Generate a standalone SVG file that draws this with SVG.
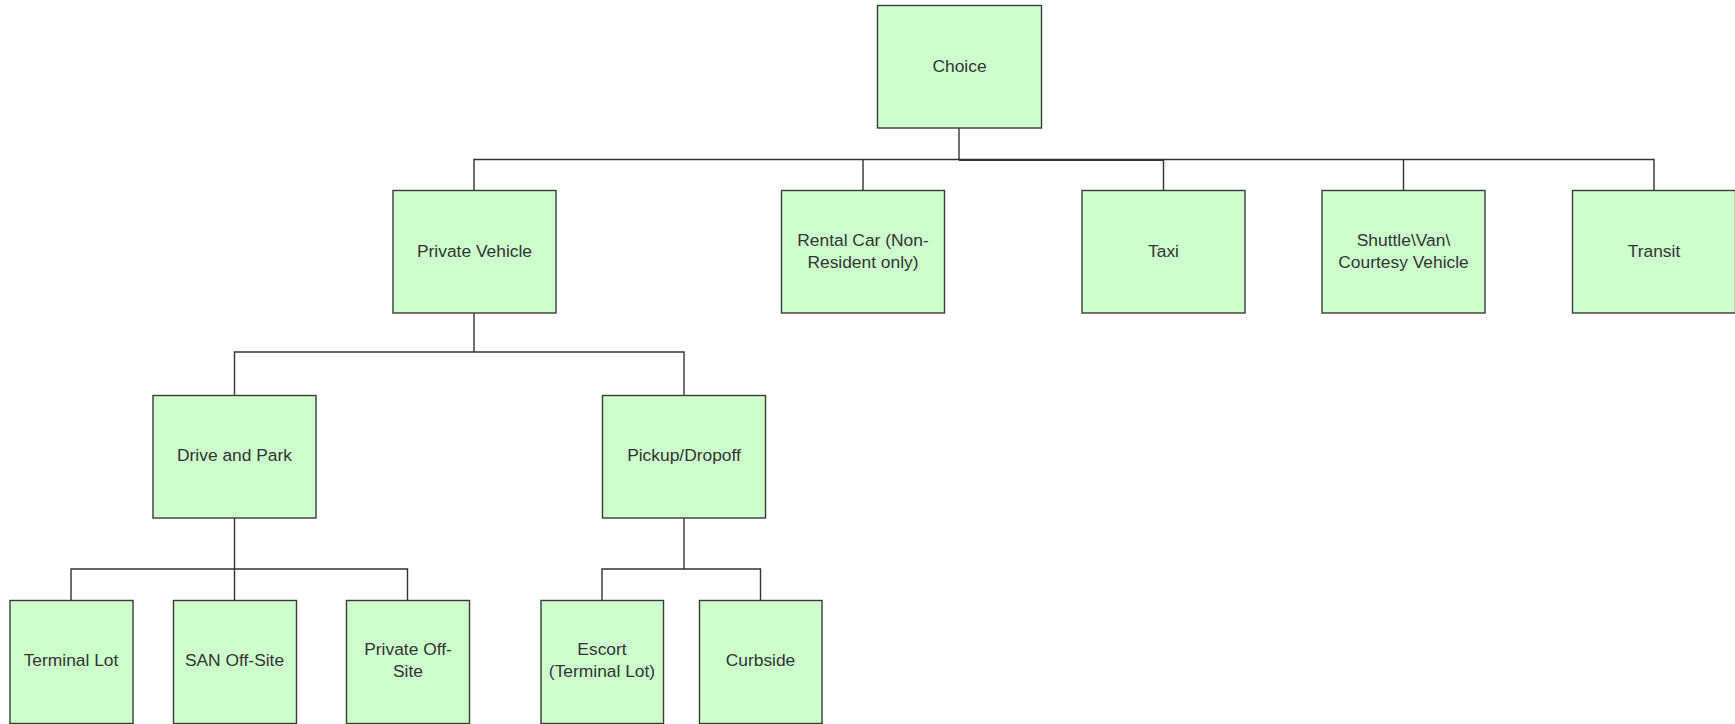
<svg xmlns="http://www.w3.org/2000/svg" width="1735" height="724" viewBox="0 0 1735 724">
<style>
.box{fill:#ccffcc;stroke:#3a3a3a;stroke-width:1.4}
.t{font-family:"Liberation Sans",Arial,sans-serif;font-size:17.4px;fill:#333;text-anchor:middle;dominant-baseline:central}
.c{fill:none;stroke:#333;stroke-width:1.4}
</style>
<rect width="1735" height="724" fill="#fff"/>
<g id="connectors">
<path class="c" d="M474,190V159.5H1654V190M863,159.5V190M1163.5,159.5V190M1403.5,159.5V190"/>
<path class="c" d="M959,128V160" stroke-width="2.2"/>
<path class="c" d="M959,160.3H1163.5" stroke-width="2.2"/>
<path class="c" d="M474,313V352M234.5,395V352H684V395"/>
<path class="c" d="M234.5,518V600M71,600V569H407.5V600"/>
<path class="c" d="M684,518V569M602,600V569H760.5V600"/>
</g>
<g id="choice"><rect class="box" x="877.5" y="5.5" width="164" height="122.5"/><text class="t" x="959.5" y="65.8">Choice</text></g>
<g id="private-vehicle"><rect class="box" x="393" y="190.5" width="163" height="122.5"/><text class="t" x="474.5" y="250.5">Private Vehicle</text></g>
<g id="rental-car"><rect class="box" x="781.5" y="190.5" width="163" height="122.5"/><text class="t" x="863" y="240">Rental Car (Non-</text><text class="t" x="863" y="261.5">Resident only)</text></g>
<g id="taxi"><rect class="box" x="1082" y="190.5" width="163" height="122.5"/><text class="t" x="1163.5" y="250.5">Taxi</text></g>
<g id="shuttle"><rect class="box" x="1322" y="190.5" width="163" height="122.5"/><text class="t" x="1403.5" y="240">Shuttle\Van\</text><text class="t" x="1403.5" y="261.5">Courtesy Vehicle</text></g>
<g id="transit"><rect class="box" x="1572.5" y="190.5" width="163" height="122.5"/><text class="t" x="1654" y="250.5">Transit</text></g>
<g id="drive-and-park"><rect class="box" x="153" y="395.5" width="163" height="122.5"/><text class="t" x="234.5" y="455">Drive and Park</text></g>
<g id="pickup-dropoff"><rect class="box" x="602.5" y="395.5" width="163" height="122.5"/><text class="t" x="684" y="455">Pickup/Dropoff</text></g>
<g id="terminal-lot"><rect class="box" x="10" y="600.5" width="123" height="123"/><text class="t" x="71" y="660">Terminal Lot</text></g>
<g id="san-off-site"><rect class="box" x="173.5" y="600.5" width="123" height="123"/><text class="t" x="234.5" y="660">SAN Off-Site</text></g>
<g id="private-off-site"><rect class="box" x="346.5" y="600.5" width="123" height="123"/><text class="t" x="408" y="649">Private Off-</text><text class="t" x="408" y="670.5">Site</text></g>
<g id="escort"><rect class="box" x="541" y="600.5" width="122.5" height="123"/><text class="t" x="602" y="649">Escort</text><text class="t" x="602" y="670.5">(Terminal Lot)</text></g>
<g id="curbside"><rect class="box" x="699.5" y="600.5" width="122.5" height="123"/><text class="t" x="760.5" y="660">Curbside</text></g>
</svg>
